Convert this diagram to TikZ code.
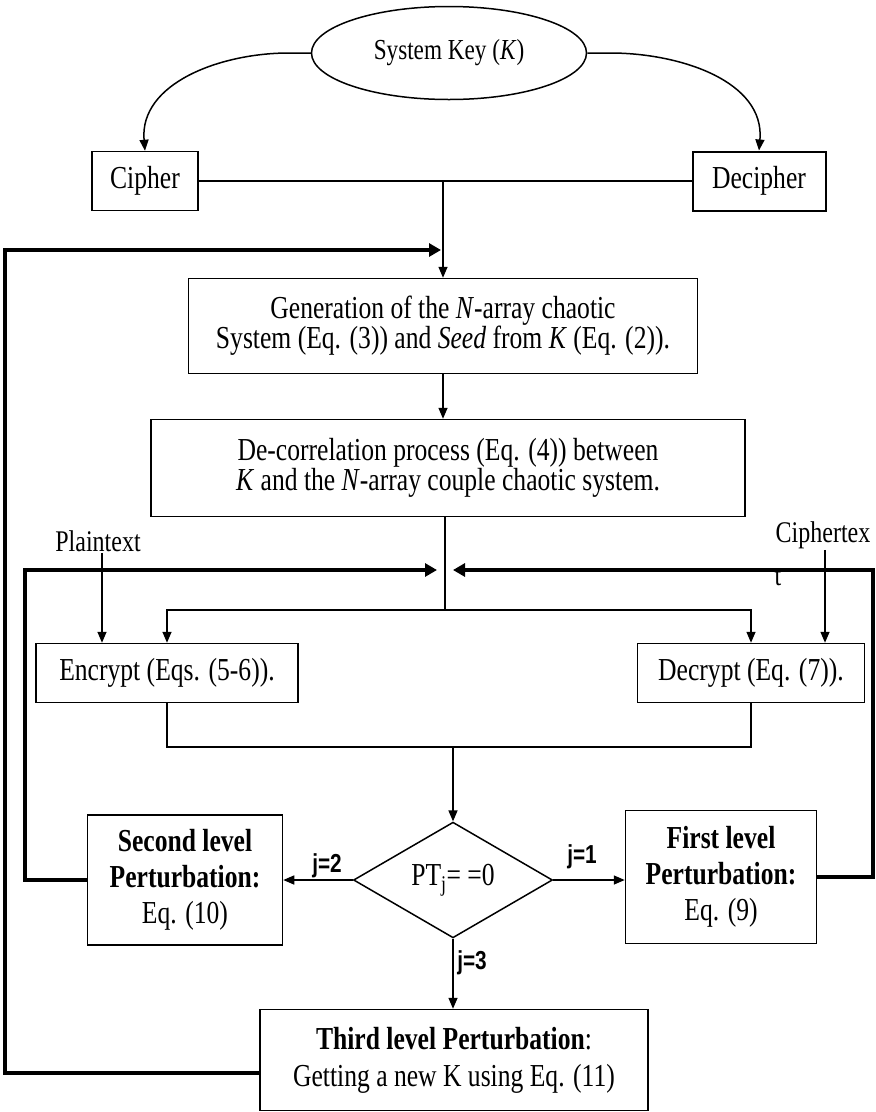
\documentclass[tikz,border=0pt]{standalone}
\usepackage{fontspec}
\setmainfont{Liberation Serif}[FakeStretch=0.8]
\newfontfamily\branchfont{Liberation Sans}[FakeStretch=0.8]
\usetikzlibrary{shapes.geometric, arrows.meta}

\begin{document}
\begin{tikzpicture}[x=1pt, y=-1pt,
  blk/.style={rectangle, draw, line width=1.5pt, fill=white, align=center, inner sep=0pt, font=\fontsize{32}{30}\selectfont},
  cond/.style={diamond, draw, line width=1.5pt, inner sep=0pt, minimum width=199pt, minimum height=114pt, font=\fontsize{32}{30}\selectfont},
  keyell/.style={ellipse, draw, line width=1.5pt, minimum width=275pt, minimum height=93pt, font=\fontsize{29}{30}\selectfont},
  lbl/.style={inner sep=1pt, font=\fontsize{30}{30}\selectfont},
  jlbl/.style={inner sep=0pt, font=\branchfont\bfseries\fontsize{26}{26}\selectfont},
  conn/.style={line width=1.5pt},
  arr/.style={conn, -{Triangle[length=11pt, width=9pt]}},
  fb/.style={line width=3.8pt, -{Triangle[length=12pt, width=13pt]}},
]
  \useasboundingbox (0,0) rectangle (876,1112);

  % Key and the two users
  \node[keyell] (key) at (449,53) {System Key (\textit{K})};
  \node[blk, minimum width=106pt, minimum height=59pt] (cipher) at (145,181) {Cipher};
  \node[blk, line width=2pt, minimum width=133pt, minimum height=59pt] (decipher) at (759,181) {Decipher};

  % Chaotic system set-up
  \node[blk, minimum width=509pt, minimum height=95pt] (gen) at (443,326)
    {Generation of the \textit{N}-array chaotic\\System (Eq. (3)) and \textit{Seed} from \textit{K} (Eq. (2)).};
  \node[blk, minimum width=594pt, minimum height=97pt] (decor) at (448,468)
    {De-correlation process (Eq. (4)) between\\\textit{K} and the \textit{N}-array couple chaotic system.};

  % Encrypt / decrypt
  \node[lbl] (plain) at (98,541) {Plaintext};
  \node[lbl] (ctext) at (823,535) {Ciphertex};
  \node[lbl] (ctextt) at (778,577) {t};
  \node[blk, minimum width=262pt, minimum height=59pt] (enc) at (167,673) {Encrypt (Eqs. (5-6)).};
  \node[blk, minimum width=227pt, minimum height=59pt] (dec) at (751,673) {Decrypt (Eq. (7)).};

  % Perturbation test and levels
  \node[cond] (test) at (453,880) {PT\textsubscript{j}= =0};
  \node[blk, minimum width=195pt, minimum height=130pt, font=\fontsize{32}{36}\selectfont] (second) at (185,880)
    {\textbf{Second level}\\\textbf{Perturbation:}\\Eq. (10)};
  \node[blk, minimum width=191pt, minimum height=133pt, font=\fontsize{32}{36}\selectfont] (first) at (721,877)
    {\textbf{First level}\\\textbf{Perturbation:}\\Eq. (9)};
  \node[blk, minimum width=388pt, minimum height=101pt, font=\fontsize{32}{37}\selectfont] (third) at (454,1060)
    {\textbf{Third level Perturbation}:\\Getting a new K using Eq. (11)};

  % Branch labels
  \node[jlbl] (jtwo) at (327,866) {j=2};
  \node[jlbl] (jone) at (582,857) {j=1};
  \node[jlbl] (jthree) at (472,963) {j=3};

  % Helper points
  \coordinate (split) at (445,610);
  \coordinate (merge) at (453,747);
  \coordinate (inTop) at (441,250);
  \coordinate (inL) at (437,570);
  \coordinate (inR) at (453,570);
  \coordinate (railA) at (5,250);
  \coordinate (railB) at (25,570);
  \coordinate (railC) at (873,570);

  % Key distribution
  \draw[arr] (key.west) -- ++(-22,0) to[out=180, in=95] (cipher.north);
  \draw[arr] (key.east) -- ++(23,0) to[out=0, in=85] (decipher.north);
  \draw[conn] (cipher) -- (decipher);
  \draw[arr] (cipher.east -| gen.north) -- (gen.north);
  \draw[arr] (gen.south) -- (gen.south |- decor.north);

  % Fan out to encrypt / decrypt
  \draw[conn] (decor.south -| split) -- (split);
  \draw[arr] (split) -| (enc.north);
  \draw[arr] (split) -| (dec.north);
  \draw[arr] (plain.south -| 102,0) -- (enc.north -| 102,0);
  \draw[arr] (ctext.south -| 825,0) -- (dec.north -| 825,0);

  % Join to the test
  \draw[conn] (enc.south) |- (merge) -| (dec.south);
  \draw[arr] (merge) -- (test.north);
  \draw[arr] (test.west) -- (test.west -| second.east);
  \draw[arr] (test.east) -- (test.east -| first.west);
  \draw[arr] (test.south) -- (test.south |- third.north);

  % Feedback loops
  \draw[fb] ([yshift=-13pt]third.west) -| (railA) -- (inTop);
  \draw[fb] (second.west) -| (railB) -- (inL);
  \draw[fb] (first.east) -| (railC) -- (inR);
\end{tikzpicture}
\end{document}
